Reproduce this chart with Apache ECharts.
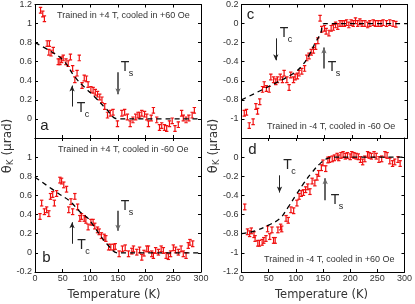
<!DOCTYPE html>
<html><head><meta charset="utf-8">
<script src="https://cdn.jsdelivr.net/npm/echarts@6/dist/echarts.min.js"></script>
<style>html,body{margin:0;padding:0;background:#fff}#c{width:415px;height:304px}</style>
</head><body><div id="c"></div>
<script>
// ---- data: [Temperature (K), theta_K (μrad)] ----
const panelA = [[10,1.14],[14,1.10],[17,1.05],[22,0.79],[25,0.70],[26,0.79],[29,0.69],[33,0.72],[42,0.60],[45,0.60],[48,0.62],[51,0.64],[56,0.60],[60,0.58],[64,0.65],[68,0.53],[72,0.41],[76,0.48],[80,0.64],[85,0.35],[89,0.43],[93,0.42],[96,0.36],[101,0.31],[105,0.30],[109,0.28],[113,0.26],[117,0.23],[121,0.20],[126,0.13],[131,0.04],[136,0.06],[141,0.07],[149,-0.05],[157,0.06],[162,0.07],[167,0.02],[172,-0.05],[177,-0.01],[182,0.02],[186,0.04],[189,0.04],[193,0.06],[198,0.05],[202,0.02],[205,-0.05],[210,0.01],[214,0.09],[220,-0.01],[225,-0.09],[229,-0.07],[234,-0.09],[238,-0.10],[243,-0.05],[248,-0.02],[253,-0.10],[259,-0.06],[265,0.06],[268,0.01],[273,-0.01],[278,0.01],[284,0.04],[288,0.09]];
const panelB = [[9,0.38],[12,0.52],[17,0.43],[21,0.45],[25,0.41],[28,0.59],[32,0.61],[35,0.52],[39,0.62],[45,0.76],[48,0.75],[52,0.71],[57,0.665],[61,0.45],[65,0.535],[68,0.43],[72,0.59],[77,0.48],[81,0.36],[84,0.38],[89,0.36],[92,0.34],[96,0.27],[101,0.32],[105,0.32],[108,0.28],[113,0.24],[116,0.22],[120,0.18],[125,0.165],[128,0.15],[133,0.06],[137,0.06],[142,0.06],[145,0.067],[152,-0.01],[158,0.042],[163,0.053],[169,-0.01],[175,0.018],[178,0.042],[184,0.007],[189,0.03],[193,-0.046],[197,-0.003],[202,0.042],[205,0.042],[211,-0.01],[214,-0.028],[218,0.025],[223,0.007],[228,0.042],[232,0.025],[237,-0.028],[241,-0.039],[245,-0.01],[250,0.053],[254,0.03],[259,0.007],[264,0.042],[268,-0.01],[273,-0.028],[277,0.077],[280,0.11],[285,0.095]];
const panelC = [[5,-0.94],[9,-0.93],[14,-1.07],[21,-1.03],[26,-0.87],[29,-0.92],[33,-0.82],[38,-0.69],[41,-0.64],[45,-0.68],[50,-0.69],[53,-0.56],[58,-0.59],[62,-0.61],[65,-0.59],[70,-0.56],[74,-0.59],[77,-0.52],[82,-0.59],[86,-0.67],[89,-0.54],[94,-0.59],[97,-0.56],[101,-0.55],[104,-0.52],[109,-0.50],[114,-0.47],[118,-0.36],[122,-0.34],[126,-0.30],[130,-0.28],[134,-0.24],[138,-0.18],[142,0.056],[145,-0.06],[150,-0.05],[153,-0.08],[158,-0.10],[162,-0.05],[166,-0.04],[170,-0.014],[174,-0.03],[178,0],[182,0],[186,0],[190,0.01],[194,-0.014],[198,0.01],[202,0],[206,0.03],[210,0],[214,0.02],[218,0],[223,0],[228,-0.014],[232,0],[238,0.01],[242,0],[247,0],[252,0],[256,0.01],[262,0],[268,0.01],[274,0],[279,-0.007]];
const panelD = [[6,-0.52],[11,-0.78],[15,-0.80],[18,-0.77],[23,-0.81],[25,-0.85],[30,-0.90],[33,-0.90],[38,-0.89],[41,-0.87],[45,-0.85],[48,-0.75],[52,-0.83],[56,-0.76],[59,-0.87],[62,-0.87],[67,-0.76],[72,-0.73],[74,-0.75],[82,-0.64],[86,-0.66],[91,-0.55],[96,-0.56],[102,-0.48],[106,-0.41],[110,-0.38],[114,-0.37],[118,-0.34],[122,-0.31],[126,-0.36],[130,-0.25],[135,-0.27],[139,-0.21],[142,-0.17],[147,-0.11],[150,-0.06],[155,-0.12],[159,-0.03],[162,-0.025],[167,-0.018],[171,-0.007],[176,0.01],[179,-0.007],[183,0.018],[187,0.028],[191,0.01],[195,0.018],[200,0.004],[203,0.028],[207,0.018],[211,0.01],[215,0.004],[219,-0.025],[223,-0.05],[227,-0.018],[232,0.028],[235,0.018],[239,0.01],[244,0.028],[248,0.01],[253,-0.025],[258,-0.018],[264,0.028],[268,0.018],[273,-0.04],[278,-0.067],[282,-0.05],[288,-0.025],[292,-0.067]];
// dashed guide curves
const fitA = [[0,0.80],[25,0.72],[51,0.615],[72,0.44],[90,0.33],[108,0.23],[128,0.11],[150,0],[300,0]];
const fitB = [[0,0.79],[45,0.61],[63,0.54],[81,0.43],[96,0.36],[105,0.29],[117,0.19],[132,0.08],[150,0],[300,0]];
const fitC = [[0,-0.80],[50,-0.657],[95,-0.518],[110,-0.437],[122,-0.333],[134,-0.194],[143,-0.106],[150,0],[300,0]];
const fitD = [[0,-0.80],[25,-0.77],[50,-0.71],[71,-0.64],[85,-0.53],[101,-0.39],[115,-0.27],[129,-0.165],[146,-0.06],[160,-0.01],[175,0],[300,0]];
// arrows: [T, from θ, to θ]
const arrowsTs = [[150,0.49,0.26],[150,0.44,0.23],[149,-0.47,-0.25],[154,-0.45,-0.22]];
const arrowsTc = [[67,0.13,0.35],[67,0.095,0.32],[62,-0.155,-0.385],[70,-0.19,-0.37]];
const panelText = ['Trained in +4 T, cooled in +60 Oe','Trained in +4 T, cooled in -60 Oe','Trained in -4 T, cooled in -60 Oe','Trained in -4 T, cooled in +60 Oe'];
const panelLetters = ['a','b','c','d'];
const xTickStep = 50, yTickStep = 0.2;
const ERR = 0.03;

const RED = '#f01010';
const FONT = 'Liberation Sans, Arial, sans-serif';
const grids = [
  {left:35, top:4, width:166, height:134},
  {left:35, top:138, width:166, height:134},
  {left:241.5, top:4, width:166, height:134},
  {left:241.5, top:138, width:166, height:134}
];
const yRanges = [[-0.2,1.2],[-0.2,1.2],[-1.2,0.2],[-1.2,0.2]];
const hideMin = [true,false,true,false];
const points = [panelA,panelB,panelC,panelD];
const fits = [fitA,fitB,fitC,fitD];

const xAxis = [], yAxis = [], series = [];
const tick = {show:true, inside:true, length:3, lineStyle:{color:'#000', width:1}};
const axLine = {show:true, onZero:false, lineStyle:{color:'#000', width:1}};
for (let i=0;i<4;i++){
  const showX = (i===1||i===3);
  xAxis.push({type:'value', gridIndex:i, min:0, max:300, interval:xTickStep, position:'bottom',
    axisLine:axLine, axisTick:tick, splitLine:{show:false},
    axisLabel:{show:showX, fontSize:9, color:'#333', fontFamily:FONT, margin:2}});
  xAxis.push({type:'value', gridIndex:i, min:0, max:300, interval:xTickStep, position:'top',
    axisLine:axLine, axisTick:tick, splitLine:{show:false}, axisLabel:{show:false}});
  yAxis.push({type:'value', gridIndex:i, min:yRanges[i][0], max:yRanges[i][1], interval:yTickStep, position:'left',
    axisLine:axLine, axisTick:tick, splitLine:{show:false},
    axisLabel:{fontSize:9, color:'#333', fontFamily:FONT, margin:3, showMinLabel:!hideMin[i], showMaxLabel:hideMin[i]}});
  yAxis.push({type:'value', gridIndex:i, min:yRanges[i][0], max:yRanges[i][1], interval:yTickStep, position:'right',
    axisLine:axLine, axisTick:tick, splitLine:{show:false}, axisLabel:{show:false}});
  series.push({type:'custom', xAxisIndex:2*i, yAxisIndex:2*i, data:points[i], clip:true, z:2,
    renderItem:function(params, api){
      const x = api.value(0), y = api.value(1);
      const t = api.coord([x, y+ERR]), b = api.coord([x, y-ERR]);
      const h = 1.7, st = {stroke:RED, lineWidth:1.2};
      return {type:'group', children:[
        {type:'line', shape:{x1:t[0],y1:t[1],x2:b[0],y2:b[1]}, style:st},
        {type:'line', shape:{x1:t[0]-h,y1:t[1],x2:t[0]+h,y2:t[1]}, style:st},
        {type:'line', shape:{x1:b[0]-h,y1:b[1],x2:b[0]+h,y2:b[1]}, style:st}
      ]};
    }});
  const ts = arrowsTs[i], tc = arrowsTc[i];
  series.push({type:'line', xAxisIndex:2*i, yAxisIndex:2*i, data:fits[i], smooth:0.4, showSymbol:false, z:3,
    lineStyle:{color:'#000', width:1.3, type:[5,4]},
    markLine:{silent:true, animation:false, symbol:['none','arrow'], symbolSize:[4,6], label:{show:false},
      data:[
        [{coord:[ts[0],ts[1]], lineStyle:{color:'#666', width:2, type:'solid'}},{coord:[ts[0],ts[2]]}],
        [{coord:[tc[0],tc[1]], lineStyle:{color:'#222', width:1, type:'solid'}},{coord:[tc[0],tc[2]]}]
      ]}});
}

function T(x,y,letter){ return [
  {type:'text', x:x, y:y, style:{text:'T', fontSize:14, fontFamily:FONT, fill:'#222', textAlign:'center', textVerticalAlign:'middle'}},
  {type:'text', x:x+6, y:y+7, style:{text:letter, fontSize:9, fontFamily:FONT, fill:'#222', textAlign:'center', textVerticalAlign:'middle'}}
];}
const graphic = [];
const descPos = [[57,16],[58,150],[267,127],[264,260]];
descPos.forEach((p,i)=>graphic.push({type:'text', x:p[0], y:p[1], style:{text:panelText[i], fontSize:9, fontFamily:FONT, fill:'#333', textVerticalAlign:'middle'}}));
const letPos = [[44.5,126],[46.5,258],[250.5,15],[252.5,150]];
letPos.forEach((p,i)=>graphic.push({type:'text', x:p[0], y:p[1], style:{text:panelLetters[i], fontSize:15, fontFamily:FONT, fill:'#222', textAlign:'center', textVerticalAlign:'middle'}}));
graphic.push(...T(125,67,'s'), ...T(81,108,'c'), ...T(125,206,'s'), ...T(81.5,245,'c'),
              ...T(284,33,'c'), ...T(332,67,'s'), ...T(287.5,165,'c'), ...T(335,200,'s'));
[[114,295],[321.5,295]].forEach(p=>graphic.push({type:'text', x:p[0], y:p[1], style:{text:'Temperature (K)', fontSize:11.5, fontFamily:'DejaVu Sans, sans-serif', fill:'#333', textAlign:'center', textVerticalAlign:'middle'}}));
[[8,146],[214,146]].forEach(p=>graphic.push({type:'text', x:p[0], y:p[1], rotation:Math.PI/2,
  style:{text:'{t|θ}{k|K}{u| (μrad)}', textAlign:'center', textVerticalAlign:'middle',
    rich:{t:{fontSize:13, fontFamily:'DejaVu Sans, sans-serif', fill:'#333'},
          k:{fontSize:9, fontFamily:'DejaVu Sans, sans-serif', fill:'#333', padding:[6,0,0,0]},
          u:{fontSize:12, fontFamily:'DejaVu Sans, sans-serif', fill:'#333'}}}}));

const chart = echarts.init(document.getElementById('c'), null, {renderer:'canvas'});
chart.setOption({animation:false, grid:grids, xAxis:xAxis, yAxis:yAxis, series:series, graphic:graphic});
</script></body></html>
